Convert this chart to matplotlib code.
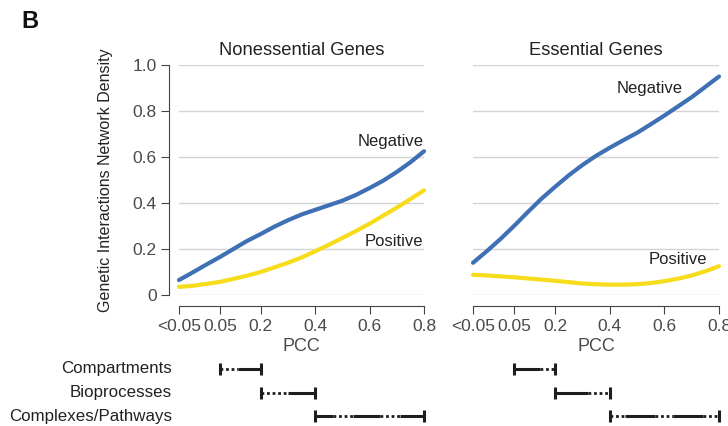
import numpy as np
import matplotlib
matplotlib.use("Agg")
import matplotlib.pyplot as plt
from matplotlib.transforms import blended_transform_factory

plt.rcParams['font.family'] = ['Liberation Sans', 'DejaVu Sans']

# PCC axis: "<0.05" bin sits at -0.1 on a linear scale
pcc_ticks = [-0.1, 0.05, 0.2, 0.4, 0.6, 0.8]
pcc_labels = ['<0.05', '0.05', '0.2', '0.4', '0.6', '0.8']

pcc = [-0.1, -0.05, 0.0, 0.05, 0.1, 0.15, 0.2, 0.25, 0.3, 0.35,
       0.4, 0.45, 0.5, 0.55, 0.6, 0.65, 0.7, 0.75, 0.8]
noness_neg = [0.065, 0.098, 0.132, 0.165, 0.2, 0.235, 0.265, 0.297, 0.325, 0.35,
              0.37, 0.39, 0.41, 0.435, 0.465, 0.497, 0.535, 0.577, 0.625]
noness_pos = [0.035, 0.04, 0.048, 0.057, 0.07, 0.084, 0.1, 0.12, 0.14, 0.163,
              0.19, 0.218, 0.248, 0.278, 0.31, 0.345, 0.38, 0.417, 0.455]
ess_neg = [0.14, 0.19, 0.243, 0.30, 0.36, 0.418, 0.47, 0.52, 0.565, 0.605,
           0.64, 0.673, 0.705, 0.742, 0.78, 0.82, 0.86, 0.905, 0.95]
ess_pos = [0.088, 0.085, 0.081, 0.077, 0.072, 0.067, 0.062, 0.056, 0.05, 0.047,
           0.045, 0.045, 0.047, 0.052, 0.06, 0.071, 0.085, 0.103, 0.125]

# standard ranges: (start, end, style) segments, 's' solid, 'd' dotted
standards = ['Compartments', 'Bioprocesses', 'Complexes/Pathways']
noness_ranges = [
    [(0.05, 0.117, 'd'), (0.117, 0.2, 's')],
    [(0.2, 0.30, 'd'), (0.30, 0.4, 's')],
    [(0.4, 0.466, 's'), (0.466, 0.539, 'd'), (0.539, 0.638, 's'),
     (0.638, 0.712, 'd'), (0.712, 0.8, 's')],
]
ess_ranges = [
    [(0.05, 0.145, 's'), (0.145, 0.2, 'd')],
    [(0.2, 0.32, 's'), (0.32, 0.4, 'd')],
    [(0.4, 0.456, 'd'), (0.456, 0.566, 's'), (0.566, 0.632, 'd'),
     (0.632, 0.742, 's'), (0.742, 0.8, 'd')],
]

blue = '#3f6fb5'
yellow = '#f7dc1c'
grey_txt = '#4a4a4a'

W, H = 728, 426
fig = plt.figure(figsize=(7.28, 4.26), dpi=100)

def px_axes(x0, x1, y_top, y_bot):
    return fig.add_axes([x0 / W, 1 - y_bot / H, (x1 - x0) / W, (y_bot - y_top) / H])

ax1 = px_axes(179, 424, 65, 295)
ax2 = px_axes(473, 719, 65, 295)

panels = [
    (ax1, 'Nonessential Genes', noness_neg, noness_pos, noness_ranges,
     (0.797, 0.635, 'Negative'), (0.797, 0.2, 'Positive')),
    (ax2, 'Essential Genes', ess_neg, ess_pos, ess_ranges,
     (0.668, 0.865, 'Negative'), (0.755, 0.122, 'Positive')),
]

row_y = [369, 393, 416]

for ax, title, neg, pos, ranges, neg_lab, pos_lab in panels:
    ax.set_xlim(-0.1, 0.8)
    ax.set_ylim(0, 1)
    for g in [0, 0.2, 0.4, 0.6, 0.8, 1.0]:
        ax.axhline(g, color='#d4d4d4', lw=1.0, zorder=0)
    ax.plot(pcc, pos, color=yellow, lw=3.0, solid_capstyle='round', clip_on=False, zorder=3)
    ax.plot(pcc, neg, color=blue, lw=3.0, solid_capstyle='round', clip_on=False, zorder=4)
    ax.text(neg_lab[0], neg_lab[1], neg_lab[2], ha='right', va='bottom', fontsize=12, color='#222222')
    ax.text(pos_lab[0], pos_lab[1], pos_lab[2], ha='right', va='bottom', fontsize=12, color='#222222')
    ax.set_title(title, fontsize=13.2, color='#222222', pad=7)

    for s in ['top', 'right']:
        ax.spines[s].set_visible(False)
    ax.spines['bottom'].set_position(('outward', 8))
    ax.spines['bottom'].set_bounds(-0.1, 0.8)
    ax.spines['bottom'].set_color('#444444')
    ax.set_xticks(pcc_ticks)
    ax.set_xticklabels(pcc_labels)
    ax.tick_params(axis='x', direction='out', length=6, color='#444444',
                   labelsize=12.5, labelcolor=grey_txt, pad=3)
    ax.set_xlabel('PCC', fontsize=13, color=grey_txt, labelpad=3)

    tr = blended_transform_factory(ax.transData, fig.transFigure)
    for yy, segs in zip(row_y, ranges):
        fy = 1 - yy / H
        for a, b, st in segs:
            if st == 's':
                ax.plot([a, b], [fy, fy], color='#1e1e1e', lw=2.2, transform=tr,
                        clip_on=False, solid_capstyle='butt')
            else:
                ax.plot([a, b], [fy, fy], color='#1e1e1e', lw=2.0, transform=tr,
                        clip_on=False, linestyle=(0, (1.0, 1.0)), dash_capstyle='butt')
        a0, b0 = segs[0][0], segs[-1][1]
        ax.plot([a0, b0], [fy, fy], ls='none', marker='|', ms=9, mew=2.2,
                color='#1e1e1e', transform=tr, clip_on=False)

ax1.spines['left'].set_position(('outward', 7))
ax1.spines['left'].set_bounds(0, 1)
ax1.spines['left'].set_color('#444444')
ax1.set_yticks([0, 0.2, 0.4, 0.6, 0.8, 1.0])
ax1.set_yticklabels(['0', '0.2', '0.4', '0.6', '0.8', '1.0'])
ax1.tick_params(axis='y', length=6, color='#444444', labelsize=12.5, labelcolor=grey_txt, pad=3)
ax1.set_ylabel('Genetic Interactions Network Density', fontsize=11.5, color='#222222', labelpad=14)

ax2.spines['left'].set_visible(False)
ax2.set_yticks([])

for yy, name in zip(row_y, standards):
    fig.text(172 / W, 1 - yy / H, name, ha='right', va='center', fontsize=12.2, color='#222222')

fig.text(21 / W, 1 - 21 / H, 'B', ha='left', va='center', fontsize=17, fontweight='bold', color='#111111')

fig.savefig('out.png', dpi=100)
